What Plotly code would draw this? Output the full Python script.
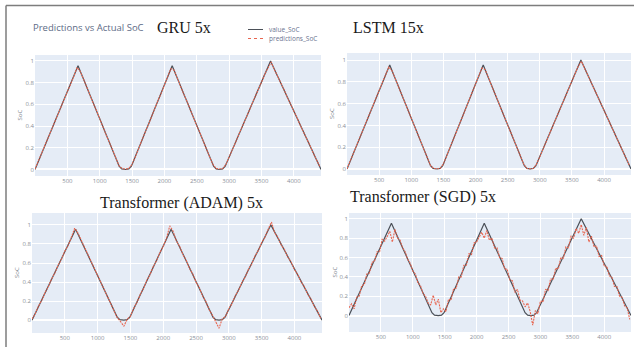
import plotly.graph_objects as go

# ---- data -------------------------------------------------------------
# measured state of charge: corner points of the charge/discharge cycles
value_x = [0, 665, 1300, 1340, 1400, 1450, 1490, 2120, 2760, 2800, 2850, 2900, 2940, 3640, 4420]
value_soc = [0.0, 0.955, 0.03, 0.005, 0.0, 0.005, 0.03, 0.955, 0.03, 0.005, 0.0, 0.005, 0.03, 1.0, 0.0]

# sample index of the model outputs
pred_x = list(range(0, 4401, 50))
sgd_x = list(range(0, 4401, 40))

gru_pred = [
    0.004, 0.075, 0.141, 0.218, 0.284, 0.362, 0.428, 0.506, 0.571, 0.649,
    0.715, 0.793, 0.858, 0.940, 0.902, 0.834, 0.755, 0.688, 0.610, 0.543,
    0.464, 0.397, 0.318, 0.251, 0.173, 0.106, 0.034, 0.008, 0.004, 0.009,
    0.048, 0.115, 0.194, 0.262, 0.341, 0.409, 0.488, 0.555, 0.635, 0.702,
    0.782, 0.849, 0.929, 0.915, 0.836, 0.770, 0.692, 0.626, 0.547, 0.481,
    0.403, 0.337, 0.258, 0.192, 0.114, 0.047, 0.009, 0.004, 0.009, 0.047,
    0.110, 0.185, 0.249, 0.324, 0.387, 0.463, 0.526, 0.601, 0.665, 0.740,
    0.803, 0.878, 0.942, 0.990, 0.920, 0.862, 0.792, 0.734, 0.664, 0.606,
    0.535, 0.477, 0.407, 0.349, 0.279, 0.221, 0.151, 0.093, 0.029,
]

lstm_pred = [
    0.002, 0.073, 0.145, 0.214, 0.288, 0.358, 0.432, 0.502, 0.575, 0.645,
    0.719, 0.789, 0.863, 0.936, 0.903, 0.832, 0.757, 0.686, 0.612, 0.541,
    0.466, 0.395, 0.320, 0.249, 0.175, 0.104, 0.031, 0.005, 0.002, 0.006,
    0.046, 0.117, 0.192, 0.264, 0.339, 0.411, 0.486, 0.557, 0.633, 0.704,
    0.780, 0.851, 0.927, 0.913, 0.838, 0.768, 0.694, 0.622, 0.549, 0.479,
    0.405, 0.335, 0.260, 0.190, 0.116, 0.045, 0.006, 0.002, 0.006, 0.045,
    0.112, 0.183, 0.251, 0.322, 0.389, 0.461, 0.528, 0.599, 0.667, 0.738,
    0.805, 0.876, 0.944, 0.988, 0.922, 0.860, 0.794, 0.732, 0.666, 0.604,
    0.537, 0.475, 0.409, 0.347, 0.281, 0.219, 0.153, 0.091, 0.027,
]

adam_pred = [
    0.012, 0.068, 0.150, 0.208, 0.292, 0.352, 0.436, 0.497, 0.580, 0.640,
    0.725, 0.783, 0.870, 0.965, 0.915, 0.842, 0.752, 0.692, 0.606, 0.548,
    0.460, 0.400, 0.315, 0.255, 0.170, 0.110, 0.025, -0.015, -0.065, 0.010,
    0.040, 0.125, 0.186, 0.272, 0.332, 0.420, 0.478, 0.566, 0.625, 0.713,
    0.772, 0.860, 0.990, 0.935, 0.832, 0.776, 0.688, 0.630, 0.543, 0.486,
    0.399, 0.341, 0.254, 0.196, 0.110, 0.052, -0.020, -0.085, 0.015, 0.038,
    0.120, 0.176, 0.260, 0.314, 0.398, 0.452, 0.537, 0.590, 0.676, 0.730,
    0.815, 0.868, 0.955, 1.030, 0.915, 0.867, 0.787, 0.738, 0.660, 0.610,
    0.530, 0.480, 0.402, 0.352, 0.275, 0.225, 0.148, 0.096, 0.020,
]

sgd_pred = [
    0.08, 0.12, 0.07, 0.19, 0.20, 0.31, 0.32, 0.43, 0.44, 0.55,
    0.56, 0.66, 0.66, 0.79, 0.77, 0.82, 0.87, 0.76, 0.89, 0.80,
    0.78, 0.70, 0.66, 0.58, 0.54, 0.46, 0.43, 0.34, 0.31, 0.23,
    0.20, 0.13, 0.11, 0.21, 0.11, 0.17, 0.03, 0.07, 0.04, 0.17,
    0.16, 0.28, 0.28, 0.40, 0.40, 0.52, 0.52, 0.64, 0.63, 0.75,
    0.76, 0.81, 0.86, 0.80, 0.88, 0.78, 0.80, 0.70, 0.70, 0.60,
    0.59, 0.48, 0.48, 0.37, 0.36, 0.24, 0.27, 0.16, 0.15, 0.09,
    0.13, 0.04, -0.10, 0.05, 0.02, 0.15, 0.14, 0.27, 0.26, 0.38,
    0.37, 0.49, 0.48, 0.60, 0.59, 0.71, 0.70, 0.82, 0.80, 0.90,
    0.85, 0.94, 0.83, 0.91, 0.76, 0.82, 0.71, 0.72, 0.61, 0.62,
    0.51, 0.51, 0.41, 0.40, 0.30, 0.30, 0.20, 0.19, 0.10, 0.08,
    -0.04,
]

panel_titles = ["GRU 5x", "LSTM 15x", "Transformer (ADAM) 5x", "Transformer (SGD) 5x"]
x_ticks = [500, 1000, 1500, 2000, 2500, 3000, 3500, 4000]
y_ticks = [0, 0.2, 0.4, 0.6, 0.8, 1]

# ---- figure -----------------------------------------------------------
W, H = 634, 347


def px(x):
    return x / W


def py(y):
    return 1 - y / H


VALUE_COLOR = "#4b5058"
PRED_COLOR = "#e8654f"
PRED_DASH = "2px,1px"
TICK_FONT = dict(family="Open Sans", size=6, color="#8a8f99")

# (plot area in pixels: left, right, top, bottom), y range
panels = [
    ((35, 321, 55, 176), [-0.06, 1.055], gru_pred, pred_x),
    ((347, 631, 53, 175), [-0.055, 1.065], lstm_pred, pred_x),
    ((32, 322, 213, 333), [-0.135, 1.125], adam_pred, pred_x),
    ((349, 631, 213, 332), [-0.17, 1.06], sgd_pred, sgd_x),
]

fig = go.Figure()
layout = dict(
    width=W,
    height=H,
    margin=dict(l=0, r=0, t=0, b=0),
    paper_bgcolor="white",
    plot_bgcolor="#e5ecf6",
    showlegend=False,
    template="plotly",
)

annotations = []
shapes = []

for i, ((l, r, t, b), yr, pred, xs) in enumerate(panels, start=1):
    sfx = "" if i == 1 else str(i)
    xref = "x" + sfx
    yref = "y" + sfx
    fig.add_trace(go.Scatter(
        x=value_x, y=value_soc, mode="lines", name="value_SoC",
        line=dict(color=VALUE_COLOR, width=1.2),
        xaxis=xref, yaxis=yref,
    ))
    fig.add_trace(go.Scatter(
        x=xs, y=pred, mode="lines", name="predictions_SoC",
        line=dict(color=PRED_COLOR, width=1.1, dash=PRED_DASH),
        xaxis=xref, yaxis=yref,
    ))
    layout["xaxis" + sfx] = dict(
        domain=[px(l), px(r)], anchor=yref, range=[0, 4420],
        tickvals=x_ticks, tickfont=TICK_FONT, ticks="",
        showgrid=True, gridcolor="white", gridwidth=1, zeroline=False,
        showline=False,
    )
    layout["yaxis" + sfx] = dict(
        domain=[py(b), py(t)], anchor=xref, range=yr,
        tickvals=y_ticks, tickfont=TICK_FONT, ticks="",
        showgrid=True, gridcolor="white", gridwidth=1,
        zeroline=True, zerolinecolor="white", zerolinewidth=1.5,
        showline=False,
    )
    # axis title
    annotations.append(dict(
        text="SoC", xref="paper", yref="paper",
        x=px(l - 15), y=py((t + b) / 2), textangle=-90,
        showarrow=False, font=dict(family="Open Sans", size=6, color="#7a7f8a"),
        xanchor="center", yanchor="middle",
    ))

# panel headings
heading_pos = [(184, 27.5), (388, 28), (181, 203), (423, 197)]
for text, (hx, hy) in zip(panel_titles, heading_pos):
    annotations.append(dict(
        text=text, xref="paper", yref="paper", x=px(hx), y=py(hy),
        showarrow=False, xanchor="center", yanchor="middle",
        font=dict(family="Liberation Serif", size=16, color="#1a1a1a"),
    ))

# chart title
annotations.append(dict(
    text="Predictions vs Actual SoC", xref="paper", yref="paper",
    x=px(31), y=py(28), showarrow=False, xanchor="left", yanchor="middle",
    font=dict(family="Open Sans", size=9.5, color="#5d6b86"),
))

# legend
for label, ly, color, dash in [("value_SoC", 29.5, VALUE_COLOR, "solid"),
                               ("predictions_SoC", 38.5, PRED_COLOR, "dot")]:
    shapes.append(dict(
        type="line", xref="paper", yref="paper",
        x0=px(248), x1=px(263), y0=py(ly), y1=py(ly),
        line=dict(color=color, width=1, dash=dash),
    ))
    annotations.append(dict(
        text=label, xref="paper", yref="paper", x=px(267), y=py(ly),
        showarrow=False, xanchor="left", yanchor="middle",
        font=dict(family="Open Sans", size=6.5, color="#6b7390"),
    ))

# outer frame (top and left edges)
shapes.append(dict(type="line", xref="paper", yref="paper",
                   x0=px(6), x1=1, y0=py(5.5), y1=py(5.5),
                   line=dict(color="#7d7d7d", width=1.5)))
shapes.append(dict(type="line", xref="paper", yref="paper",
                   x0=px(6), x1=px(6), y0=py(5.5), y1=0,
                   line=dict(color="#7d7d7d", width=1.5)))

layout["annotations"] = annotations
layout["shapes"] = shapes
fig.update_layout(**layout)

fig.write_html("out.html")
